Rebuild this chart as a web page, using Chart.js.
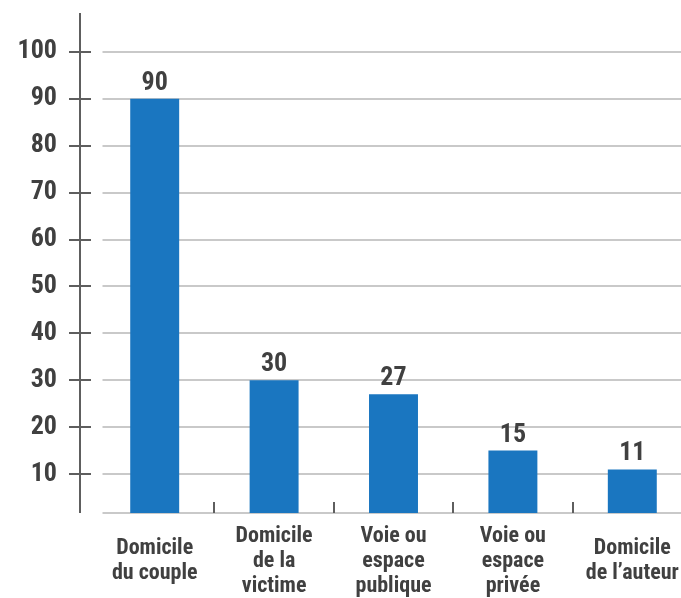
<!DOCTYPE html>
<html>
<head>
<meta charset="utf-8">
<script src="https://cdn.jsdelivr.net/npm/chart.js@4.4.0/dist/chart.umd.min.js"></script>
<style>
  html, body { margin: 0; padding: 0; background: #fff; overflow: hidden; }
  #wrap { width: 700px; height: 598px; }
</style>
</head>
<body>
<div id="wrap"><canvas id="lieux"></canvas></div>
<script>
// données
const categories = [
  ['Domicile', 'du couple'],
  ['Domicile', 'de la', 'victime'],
  ['Voie ou', 'espace', 'publique'],
  ['Voie ou', 'espace', 'privée'],
  ['Domicile', 'de l\u2019auteur']
];
const values = [90, 30, 27, 15, 11];
const yTicks = [10, 20, 30, 40, 50, 60, 70, 80, 90, 100];

const FONT = "'Liberation Sans Narrow', 'Roboto Condensed', 'DejaVu Sans Condensed', 'Liberation Sans', sans-serif";
const textColor = '#404040';
const axisColor = '#5e5e5e';
const gridColor = '#c9c9c9';
const barColor = '#1a76c0';

// axes dessinés à la main (axe vertical décalé, petites graduations)
const axesPlugin = {
  id: 'axesPlugin',
  beforeDatasetsDraw(chart) {
    const { ctx, chartArea, scales: { x, y } } = chart;
    const base = Math.round(y.getPixelForValue(y.min));
    ctx.save();
    ctx.lineWidth = 2;
    ctx.strokeStyle = gridColor;
    yTicks.forEach(v => {
      const py = Math.round(y.getPixelForValue(v));
      ctx.beginPath();
      ctx.moveTo(chartArea.left + 7.5, py);
      ctx.lineTo(chartArea.right + 10, py);
      ctx.stroke();
    });
    ctx.beginPath();
    ctx.moveTo(chartArea.left + 7.5, base);
    ctx.lineTo(chartArea.right + 10, base);
    ctx.stroke();

    ctx.strokeStyle = axisColor;
    const ax = chartArea.left - 15;
    ctx.beginPath();
    ctx.moveTo(ax, chartArea.top);
    ctx.lineTo(ax, base);
    ctx.stroke();
    yTicks.forEach(v => {
      const py = Math.round(y.getPixelForValue(v));
      ctx.beginPath();
      ctx.moveTo(ax - 11, py);
      ctx.lineTo(ax + 11, py);
      ctx.stroke();
    });
    for (let i = 1; i < categories.length; i++) {
      const px = Math.round((x.getPixelForValue(i - 1) + x.getPixelForValue(i)) / 2);
      ctx.beginPath();
      ctx.moveTo(px, base - 11);
      ctx.lineTo(px, base);
      ctx.stroke();
    }
    ctx.restore();
  },
  afterDatasetsDraw(chart) {
    const { ctx } = chart;
    const meta = chart.getDatasetMeta(0);
    ctx.save();
    ctx.font = 'bold 26px ' + FONT;
    ctx.fillStyle = textColor;
    ctx.textAlign = 'center';
    ctx.textBaseline = 'alphabetic';
    meta.data.forEach((bar, i) => {
      ctx.fillText(String(values[i]), bar.x, bar.y - 9);
    });
    ctx.restore();
  }
};

new Chart(document.getElementById('lieux'), {
  type: 'bar',
  data: {
    labels: categories,
    datasets: [{
      data: values,
      backgroundColor: barColor,
      borderWidth: 0,
      categoryPercentage: 1,
      barPercentage: 0.41
    }]
  },
  options: {
    responsive: true,
    maintainAspectRatio: false,
    animation: false,
    layout: { padding: { top: 13, right: 8, left: 0, bottom: 0 } },
    plugins: { legend: { display: false }, tooltip: { enabled: false } },
    scales: {
      x: {
        grid: { display: false, drawTicks: false },
        border: { display: false },
        ticks: {
          autoSkip: false,
          maxRotation: 0,
          crossAlign: 'center',
          padding: 23,
          color: textColor,
          font: { family: FONT, size: 22, weight: 'bold', lineHeight: 1.14 }
        },
        afterFit(s) { s.height = 85; s.paddingLeft = 0; s.paddingRight = 0; }
      },
      y: {
        min: 1.7,
        max: 108.3,
        grid: { display: false, drawTicks: false },
        border: { display: false },
        afterBuildTicks(s) { s.ticks = yTicks.map(v => ({ value: v })); },
        ticks: {
          padding: 38,
          color: textColor,
          font: { family: FONT, size: 26, weight: 'bold' }
        },
        afterFit(s) { s.width = 95; s.paddingTop = 0; s.paddingBottom = 0; }
      }
    }
  },
  plugins: [axesPlugin]
});
</script>
</body>
</html>
